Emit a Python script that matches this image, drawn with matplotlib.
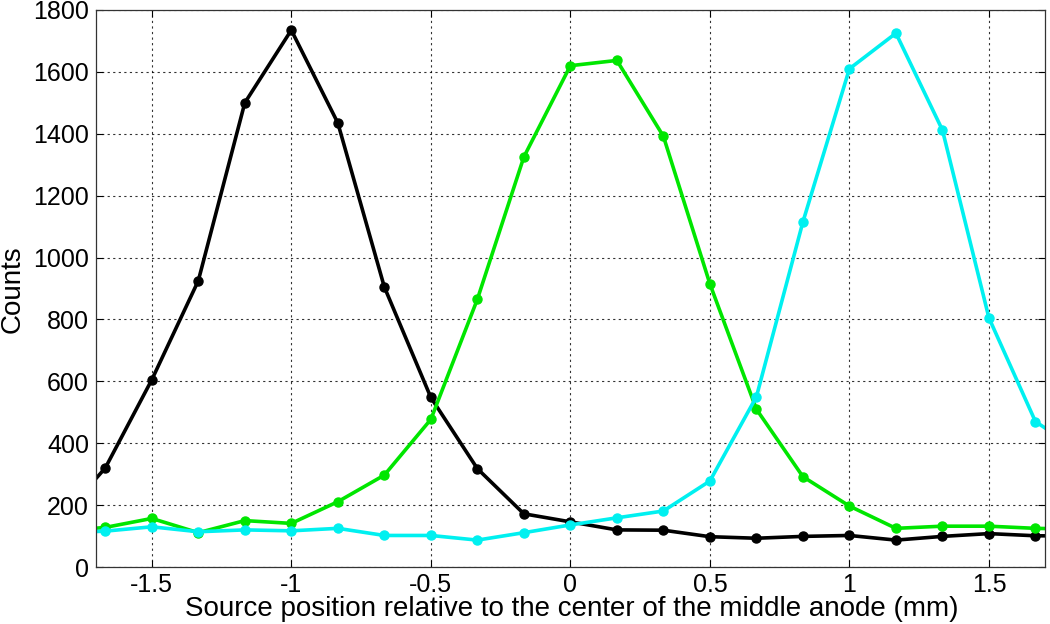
import numpy as np
import matplotlib
matplotlib.use("Agg")
import matplotlib.pyplot as plt

plt.rcParams['font.family'] = ['Liberation Sans', 'DejaVu Sans']

# Source positions (mm), steps of 1/6 mm
positions = np.arange(-11, 12) / 6.0

# Counts, one per position
counts_left = [150, 320, 605, 925, 1500, 1735, 1435, 905, 548, 318, 172, 146,
               120, 119, 98, 93, 99, 102, 87, 99, 108, 101, 100]
counts_middle = [115, 128, 157, 111, 150, 141, 211, 297, 477, 865, 1325, 1620,
                 1637, 1392, 915, 510, 292, 197, 125, 132, 132, 125, 122]
counts_right = [110, 116, 130, 114, 120, 117, 125, 102, 102, 87, 111, 136,
                159, 181, 278, 550, 1115, 1610, 1725, 1412, 805, 470, 370]

xticks = [-1.5, -1, -0.5, 0, 0.5, 1, 1.5]
xtick_labels = ['-1.5', '-1', '-0.5', '0', '0.5', '1', '1.5']
yticks = np.arange(0, 1801, 200)

fig = plt.figure(figsize=(10.5, 6.24), dpi=100)
ax = fig.add_axes([0.0914, 0.0913, 0.9036, 0.8927])

for counts, color in [(counts_left, 'black'), (counts_middle, '#00e600'), (counts_right, '#00f0f0')]:
    ax.plot(positions, counts, '-o', color=color, lw=2.6, ms=6.5, mfc=color, mec=color)

ax.set_xlim(-1.7, 1.7)
ax.set_ylim(0, 1800)
ax.set_xticks(xticks)
ax.set_xticklabels(xtick_labels)
ax.set_yticks(yticks)
ax.grid(True, color='black', linestyle=(0, (2, 3)), linewidth=0.8, alpha=0.8)
ax.tick_params(direction='in', top=True, right=True, length=5, labelsize=18, width=0.8)
ax.tick_params(axis='x', pad=4)
ax.tick_params(axis='y', pad=5)
for s in ax.spines.values():
    s.set_linewidth(0.9)
    s.set_color('#333333')

ax.set_xlabel('Source position relative to the center of the middle anode (mm)', fontsize=20)
ax.xaxis.set_label_coords(0.501, -0.052, transform=ax.transAxes)
ax.xaxis.label.set_va('top')
ax.set_ylabel('Counts', fontsize=20)
ax.yaxis.set_label_coords(13 / 1050, 0.537, transform=fig.transFigure)
ax.yaxis.label.set_va('center')

fig.savefig('out.png', dpi=100)
